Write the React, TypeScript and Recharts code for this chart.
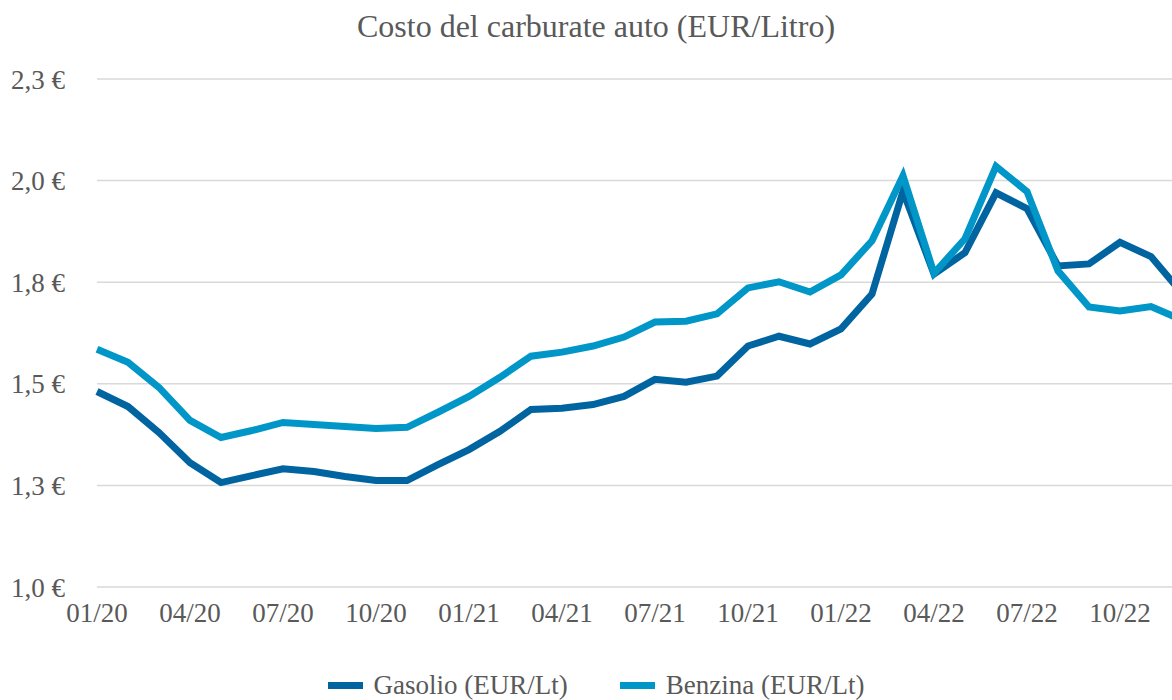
import React from 'react';
import { LineChart, Line, XAxis, YAxis, CartesianGrid, Legend } from 'recharts';

const months = [
  '01/20', '02/20', '03/20', '04/20', '05/20', '06/20', '07/20', '08/20', '09/20', '10/20', '11/20', '12/20',
  '01/21', '02/21', '03/21', '04/21', '05/21', '06/21', '07/21', '08/21', '09/21', '10/21', '11/21', '12/21',
  '01/22', '02/22', '03/22', '04/22', '05/22', '06/22', '07/22', '08/22', '09/22', '10/22', '11/22', '12/22',
];

const gasolio = [
  1.481, 1.444, 1.38, 1.306, 1.257, 1.274, 1.291, 1.284, 1.272, 1.262, 1.262, 1.301,
  1.338, 1.383, 1.437, 1.44, 1.449, 1.469, 1.511, 1.504, 1.519, 1.593, 1.617, 1.598,
  1.635, 1.721, 1.974, 1.77, 1.823, 1.97, 1.931, 1.79, 1.795, 1.848, 1.813, 1.723,
];

const benzina = [
  1.585, 1.553, 1.491, 1.41, 1.368, 1.385, 1.405, 1.4, 1.395, 1.39, 1.393, 1.43,
  1.469, 1.516, 1.568, 1.578, 1.593, 1.615, 1.652, 1.654, 1.672, 1.736, 1.751, 1.726,
  1.768, 1.852, 2.012, 1.772, 1.857, 2.035, 1.973, 1.778, 1.689, 1.679, 1.69, 1.657,
];

const yTicks = [1, 1.25, 1.5, 1.75, 2, 2.25];
const yTickLabels = ['1,0 €', '1,3 €', '1,5 €', '1,8 €', '2,0 €', '2,3 €'];

const seriesNames = ['Gasolio (EUR/Lt)', 'Benzina (EUR/Lt)'];
const seriesColors = ['#0064A0', '#0096C8'];

const data = months.map((m, i) => ({ month: m, gasolio: gasolio[i], benzina: benzina[i] }));

const FONT = '"Liberation Serif", "Times New Roman", serif';
const TEXT = '#595959';

const LegendContent = () => (
  <div
    style={{
      display: 'flex',
      justifyContent: 'center',
      alignItems: 'center',
      gap: 52,
      fontFamily: FONT,
      fontSize: 27,
      color: TEXT,
      lineHeight: '28px',
      height: 28,
    }}
  >
    {seriesNames.map((name, i) => (
      <div key={name} style={{ display: 'flex', alignItems: 'center' }}>
        <span style={{ display: 'inline-block', width: 35, height: 7, background: seriesColors[i], marginRight: 11 }} />
        <span>{name}</span>
      </div>
    ))}
  </div>
);

const App = () => {
  const tickStyle = { fontFamily: FONT, fontSize: 27, fill: TEXT };
  return (
    <div
      style={{
        position: 'fixed',
        top: 0,
        left: 0,
        width: 1172,
        height: 700,
        overflow: 'hidden',
        background: '#fff',
      }}
    >
      <div
        style={{
          position: 'absolute',
          top: 8,
          left: 0,
          width: 1192,
          textAlign: 'center',
          fontFamily: FONT,
          fontSize: 32,
          color: TEXT,
          lineHeight: 'normal',
        }}
      >
        Costo del carburate auto (EUR/Litro)
      </div>
      <LineChart width={1192} height={700} data={data} margin={{ top: 79, right: 10, left: 0, bottom: 45 }}>
        <CartesianGrid vertical={false} stroke="#d9d9d9" strokeWidth={1.5} />
        <XAxis
          dataKey="month"
          interval={2}
          tickLine={false}
          axisLine={false}
          tickSize={0}
          tickMargin={16}
          height={40}
          tick={tickStyle}
        />
        <YAxis
          domain={[1, 2.25]}
          ticks={yTicks}
          tickFormatter={(v: number) => yTickLabels[yTicks.indexOf(v)] ?? String(v)}
          tickLine={false}
          axisLine={false}
          tickSize={0}
          tickMargin={32}
          width={97}
          tick={tickStyle}
        />
        <Legend
          verticalAlign="bottom"
          height={28}
          content={<LegendContent />}
          wrapperStyle={{ top: 671, bottom: 'auto', left: 0, width: 1192 }}
        />
        <Line
          dataKey="gasolio"
          name={seriesNames[0]}
          stroke={seriesColors[0]}
          strokeWidth={7}
          dot={false}
          strokeLinejoin="miter"
          isAnimationActive={false}
        />
        <Line
          dataKey="benzina"
          name={seriesNames[1]}
          stroke={seriesColors[1]}
          strokeWidth={7}
          dot={false}
          strokeLinejoin="miter"
          isAnimationActive={false}
        />
      </LineChart>
    </div>
  );
};

export default App;
